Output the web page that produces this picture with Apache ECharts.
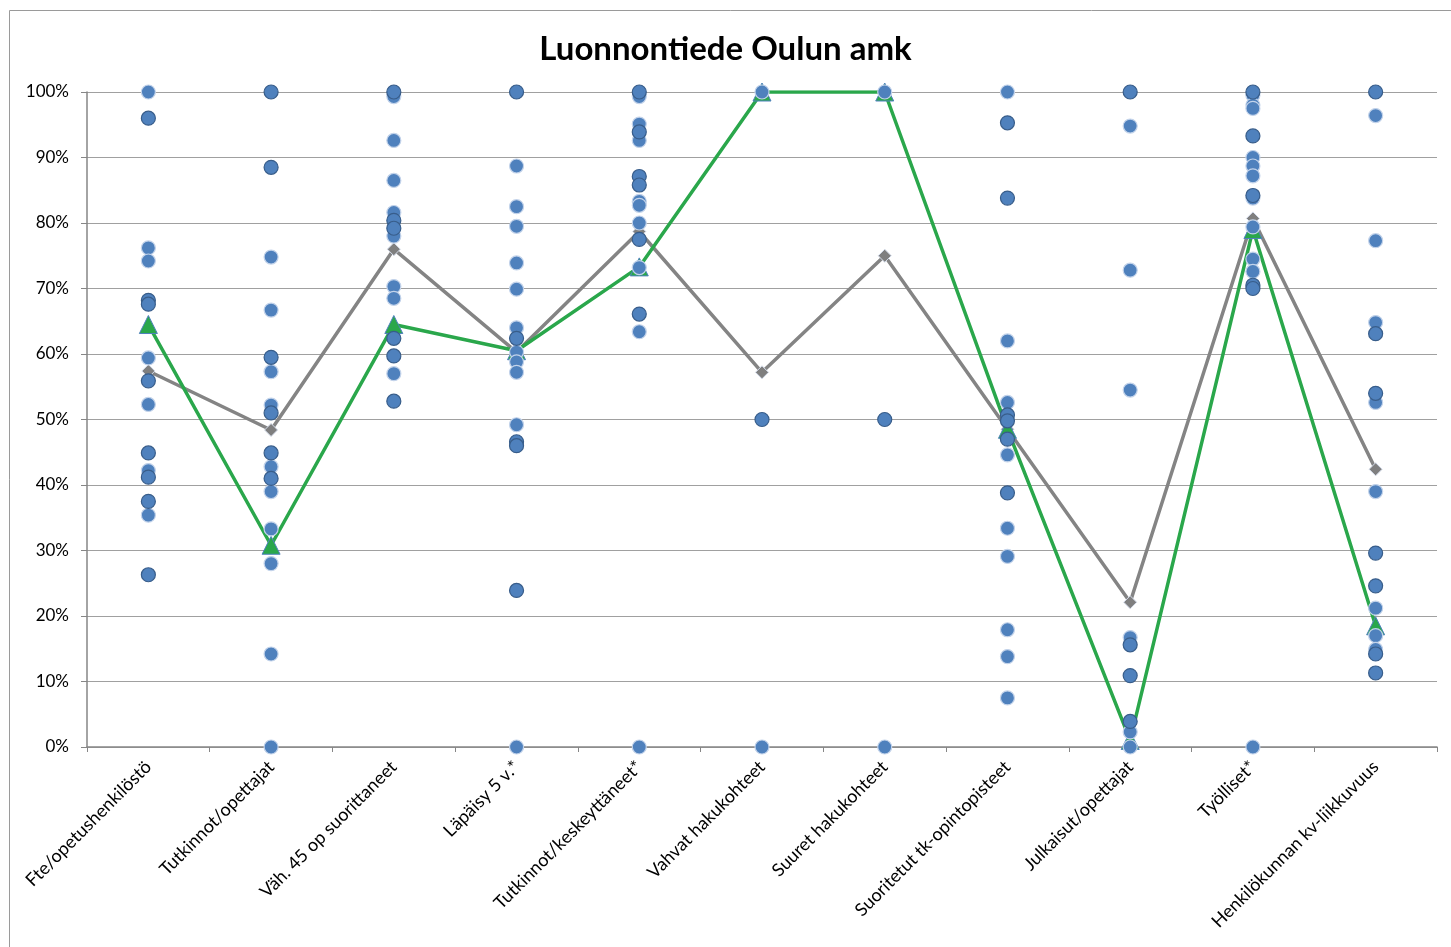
<!DOCTYPE html>
<html>
<head>
<meta charset="utf-8">
<script src="https://cdn.jsdelivr.net/npm/echarts@6/dist/echarts.min.js"></script>
<style>
html,body{margin:0;padding:0;background:#fff;}
#chart{width:1451px;height:947px;}
</style>
</head>
<body>
<div id="chart"></div>
<script>
var categories = ["Fte/opetushenkilöstö","Tutkinnot/opettajat","Väh. 45 op suorittaneet","Läpäisy 5 v.*","Tutkinnot/keskeyttäneet*","Vahvat hakukohteet","Suuret hakukohteet","Suoritetut tk-opintopisteet","Julkaisut/opettajat","Työlliset*","Henkilökunnan kv-liikkuvuus"];

// Other institutions, light-bordered points (one list per category)
var lightPoints = [
  [100, 76.2, 74.2, 59.4, 52.3, 42.2, 35.4],
  [74.8, 66.7, 57.3, 52.2, 42.8, 39.0, 33.3, 28.0, 14.2, 0],
  [99.3, 92.6, 86.5, 81.6, 78.0, 70.3, 68.5, 57.0],
  [88.7, 82.5, 79.5, 73.9, 69.9, 64.0, 60.3, 58.8, 57.2, 49.2, 0],
  [99.3, 95.1, 92.6, 83.3, 82.7, 80.0, 73.2, 63.4, 0],
  [100, 0],
  [100, 0],
  [100, 62.0, 52.6, 44.6, 33.4, 29.1, 17.9, 13.8, 7.5],
  [94.8, 72.8, 54.5, 16.7, 2.3, 0],
  [99.5, 98.0, 97.5, 90.0, 88.7, 87.2, 83.8, 79.4, 74.5, 72.6, 0],
  [96.4, 77.3, 64.8, 52.6, 39.0, 21.2, 17.0, 14.9]
];
// Other institutions, dark-bordered points
var darkPoints = [
  [96, 68.2, 67.6, 55.9, 44.9, 41.2, 37.5, 26.3],
  [100, 88.5, 59.5, 51.0, 44.9, 41.0],
  [100, 80.4, 79.2, 62.4, 59.7, 52.8],
  [100, 62.4, 46.6, 46.0, 23.9],
  [100, 93.9, 87.1, 85.8, 77.5, 66.1],
  [50],
  [50],
  [95.3, 83.8, 50.7, 49.8, 47.0, 38.8],
  [100, 15.6, 10.9, 3.9],
  [100, 93.3, 84.2, 70.5, 70.0],
  [100, 63.1, 54.0, 29.6, 24.6, 14.2, 11.3]
];
var oulunAmk = [64.5, 30.8, 64.5, 60.5, 73.3, 100, 100, 48.5, 1.0, 79.0, 18.5];
var average = [57.4, 48.4, 76.0, 60.3, 78.7, 57.2, 75.0, 48.5, 22.1, 80.7, 42.4];
var yTicks = [0,10,20,30,40,50,60,70,80,90,100];

function toPairs(lists){
  var out = [];
  lists.forEach(function(vals, i){
    vals.forEach(function(v){ out.push([categories[i], v]); });
  });
  return out;
}

var FONT = 'Lato, "Liberation Sans", sans-serif';
var chart = echarts.init(document.getElementById('chart'));
chart.setOption({
  animation: false,
  backgroundColor: '#ffffff',
  title: {
    text: 'Luonnontiede Oulun amk',
    left: 'center', top: 28,
    textStyle: { fontFamily: FONT, fontSize: 33, fontWeight: 'bold', color: '#000' }
  },
  graphic: [{
    type: 'rect', silent: true,
    shape: { x: 9.5, y: 10.5, width: 1500, height: 1000 },
    style: { fill: 'none', stroke: '#9a9a9a', lineWidth: 1 }
  }],
  grid: { left: 87, right: 14, top: 92, bottom: 200 },
  xAxis: {
    type: 'category',
    data: categories,
    boundaryGap: true,
    axisLine: { lineStyle: { color: '#868686', width: 1.5 } },
    axisTick: { show: true, length: 5, lineStyle: { color: '#868686' } },
    axisLabel: { rotate: 45, interval: 0, margin: 17, fontFamily: FONT, fontSize: 18, color: '#000' },
    splitLine: { show: false }
  },
  yAxis: {
    type: 'value',
    min: 0, max: 100, interval: 10,
    axisLine: { show: true, lineStyle: { color: '#868686', width: 1.5 } },
    axisTick: { show: true, length: 6, lineStyle: { color: '#868686' } },
    axisLabel: { margin: 18, fontFamily: FONT, fontSize: 17, color: '#000',
      formatter: function(v){ return yTicks.indexOf(v) >= 0 ? v + '%' : ''; } },
    splitLine: { show: true, lineStyle: { color: '#a0a0a0', width: 1.2 } }
  },
  series: [
    {
      name: 'Keskiarvo', type: 'line', z: 2,
      data: average,
      symbol: 'diamond', symbolSize: 13,
      lineStyle: { color: '#848484', width: 3.5 },
      itemStyle: { color: '#7f7f7f', borderColor: '#d4dceb', borderWidth: 1 }
    },
    {
      name: 'Oulun amk', type: 'line', z: 3,
      data: oulunAmk,
      symbol: 'triangle', symbolSize: 18,
      lineStyle: { color: '#2aa74b', width: 3.5 },
      itemStyle: { color: '#2aa74b', borderColor: '#4f81bd', borderWidth: 1 }
    },
    {
      name: 'Muut (vaalea)', type: 'scatter', z: 4,
      data: toPairs(lightPoints),
      symbol: 'circle', symbolSize: 14,
      itemStyle: { color: '#4f81bd', borderColor: '#c3d3ea', borderWidth: 1.2, opacity: 1 }
    },
    {
      name: 'Muut (tumma)', type: 'scatter', z: 5,
      data: toPairs(darkPoints),
      symbol: 'circle', symbolSize: 14,
      itemStyle: { color: '#4f81bd', borderColor: '#385d8a', borderWidth: 1.2, opacity: 1 }
    }
  ]
});
</script>
</body>
</html>
